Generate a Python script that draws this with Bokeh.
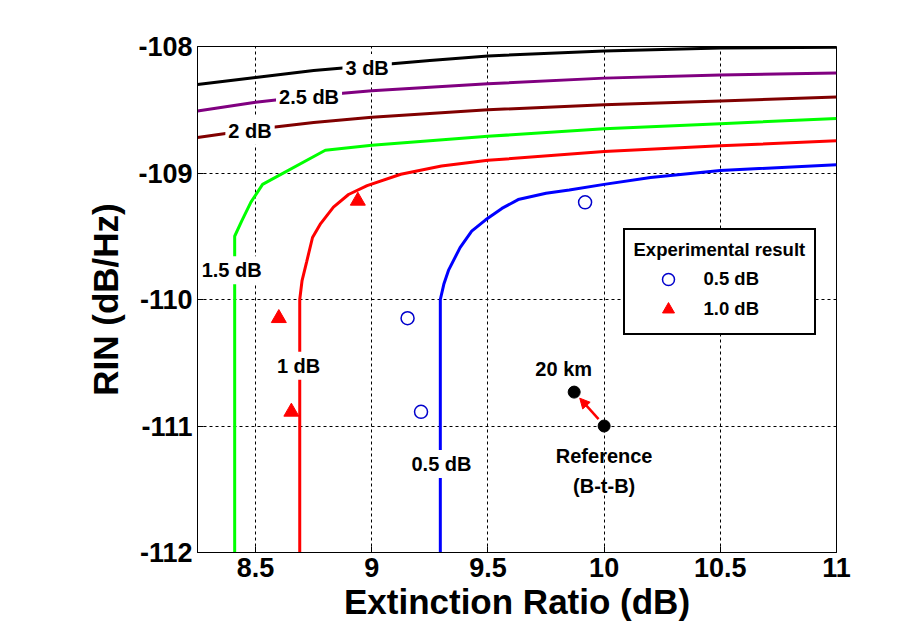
from bokeh.plotting import figure
from bokeh.models import Range1d, FixedTicker, Label, Arrow, NormalHead, Legend, LegendItem
from bokeh.embed import file_html
from bokeh.resources import INLINE

FONT = "Liberation Sans"

# ---- data ----
x_ticks = [8.5, 9, 9.5, 10, 10.5, 11]
x_tick_labels = ["8.5", "9", "9.5", "10", "10.5", "11"]
y_ticks = [-112, -111, -110, -109, -108]
y_tick_labels = ["-112", "-111", "-110", "-109", "-108"]

c3_x = [8.25, 8.5, 8.75, 9.0, 9.25, 9.5, 10.0, 10.5, 11.0]
c3_y = [-108.30, -108.245, -108.19, -108.15, -108.11, -108.075, -108.035, -108.012, -108.005]

c25_x = [8.25, 8.5, 8.75, 9.0, 9.5, 10.0, 10.5, 11.0]
c25_y = [-108.51, -108.44, -108.39, -108.35, -108.295, -108.25, -108.225, -108.21]

c2_x = [8.25, 8.5, 8.75, 9.0, 9.5, 10.0, 10.5, 11.0]
c2_y = [-108.72, -108.655, -108.60, -108.56, -108.50, -108.46, -108.43, -108.40]

c15_x = [8.41, 8.41, 8.44, 8.48, 8.53, 8.8, 9.0, 9.5, 10.0, 10.5, 11.0]
c15_y = [-112.0, -109.5, -109.38, -109.23, -109.09, -108.82, -108.78, -108.71, -108.65, -108.61, -108.57]

c1_x = [8.69, 8.69, 8.70, 8.72, 8.745, 8.78, 8.835, 8.9, 8.98, 9.125, 9.3, 9.5, 10.0, 10.5, 11.0]
c1_y = [-112.0, -110.0, -109.85, -109.7, -109.51, -109.4, -109.27, -109.17, -109.1, -109.01, -108.945, -108.9, -108.83, -108.785, -108.745]

c05_x = [9.295, 9.295, 9.31, 9.33, 9.38, 9.43, 9.49, 9.56, 9.63, 9.75, 9.85, 10.0, 10.2, 10.5, 11.0]
c05_y = [-112.0, -110.0, -109.88, -109.77, -109.59, -109.46, -109.37, -109.28, -109.21, -109.16, -109.135, -109.09, -109.035, -108.98, -108.935]

curve_colors = ["#000000", "#800080", "#800000", "#00ff00", "#ff0000", "#0000ff"]

curve_label_text = ["3 dB", "2.5 dB", "2 dB", "1.5 dB", "1 dB", "0.5 dB"]
curve_label_x = [8.98, 8.73, 8.476, 8.397, 8.685, 9.30]
curve_label_y = [-108.169, -108.40, -108.666, -109.768, -110.524, -111.30]

exp05_x = [9.918, 9.154, 9.212]
exp05_y = [-109.232, -110.148, -110.888]
exp10_x = [8.94, 8.60, 8.654]
exp10_y = [-109.22, -110.148, -110.888]

ref_x = [9.871, 10.0]
ref_y = [-110.732, -111.0]
arrow_start = (9.976, -110.945)
arrow_end = (9.895, -110.78)

note_text = ["20 km", "Reference", "(B-t-B)"]
note_x = [9.826, 10.0, 10.0]
note_y = [-110.55, -111.236, -111.473]

# ---- figure ----
p = figure(width=916, height=641, x_range=Range1d(8.25, 11.0), y_range=Range1d(-112, -108),
           output_backend="svg", toolbar_location=None,
           min_border_left=197, min_border_right=80, min_border_top=46, min_border_bottom=89)
p.background_fill_color = "white"
p.border_fill_color = "white"
p.outline_line_color = "black"
p.outline_line_width = 1

for ax in (p.xaxis, p.yaxis):
    ax.major_tick_in = 6
    ax.major_tick_out = 0
    ax.minor_tick_line_color = None
    ax.axis_line_color = "black"
    ax.major_tick_line_color = "black"
    ax.major_label_text_font = FONT
    ax.major_label_text_font_style = "bold"
    ax.major_label_text_font_size = "27px"
    ax.major_label_text_color = "black"
    ax.major_label_standoff = 5
    ax.axis_label_text_font = FONT
    ax.axis_label_text_font_style = "bold"
    ax.axis_label_text_font_size = "35px"
    ax.axis_label_text_color = "black"

p.xaxis.ticker = FixedTicker(ticks=x_ticks)
p.xaxis.major_label_overrides = dict(zip(x_ticks, x_tick_labels))
p.yaxis.ticker = FixedTicker(ticks=y_ticks)
p.yaxis.major_label_overrides = dict(zip(y_ticks, y_tick_labels))
p.xaxis.axis_label = "Extinction Ratio (dB)"
p.yaxis.axis_label = "RIN (dB/Hz)"
p.xaxis.axis_label_standoff = 2
p.yaxis.axis_label_standoff = 10

p.grid.grid_line_color = "black"
p.grid.grid_line_dash = "3 3"
p.grid.grid_line_width = 1

curves = [(c3_x, c3_y), (c25_x, c25_y), (c2_x, c2_y), (c15_x, c15_y), (c1_x, c1_y), (c05_x, c05_y)]
for (cx, cy), col in zip(curves, curve_colors):
    p.line(cx, cy, line_width=3, line_color=col)

for t, lx, ly in zip(curve_label_text, curve_label_x, curve_label_y):
    p.add_layout(Label(x=lx, y=ly, text=t, text_align="center", text_baseline="middle",
                       text_font=FONT, text_font_style="bold", text_font_size="20px",
                       text_color="black", background_fill_color="white", padding=3))

r05 = p.scatter(exp05_x, exp05_y, marker="circle", size=13, fill_color=None,
                line_color="#0000cc", line_width=1.5)
r10 = p.scatter(exp10_x, exp10_y, marker="triangle", size=15, fill_color="red", line_color="red")

p.add_layout(Arrow(end=NormalHead(size=10, fill_color="red", line_color="red"),
                   x_start=arrow_start[0], y_start=arrow_start[1],
                   x_end=arrow_end[0], y_end=arrow_end[1],
                   line_color="red", line_width=2.5))
p.scatter(ref_x, ref_y, marker="circle", size=12, fill_color="black", line_color="black")

for t, lx, ly in zip(note_text, note_x, note_y):
    p.add_layout(Label(x=lx, y=ly, text=t, text_align="center", text_baseline="middle",
                       text_font=FONT, text_font_style="bold", text_font_size="20px",
                       text_color="black"))

legend = Legend(items=[LegendItem(label="0.5 dB", renderers=[r05]),
                       LegendItem(label="1.0 dB", renderers=[r10])],
                title="Experimental result", location=(425.5, 216.7),
                border_line_color="black", border_line_width=2, border_line_alpha=1.0,
                background_fill_color="white", background_fill_alpha=1.0,
                padding=9, spacing=0, margin=0, glyph_width=68, glyph_height=30,
                label_height=30, label_standoff=2, title_standoff=3,
                title_text_font=FONT, title_text_font_style="bold", title_text_font_size="18.5px",
                title_text_color="black",
                label_text_font=FONT, label_text_font_style="bold", label_text_font_size="18.5px",
                label_text_color="black")
p.add_layout(legend)

open("out.html", "w").write(file_html(p, INLINE))
